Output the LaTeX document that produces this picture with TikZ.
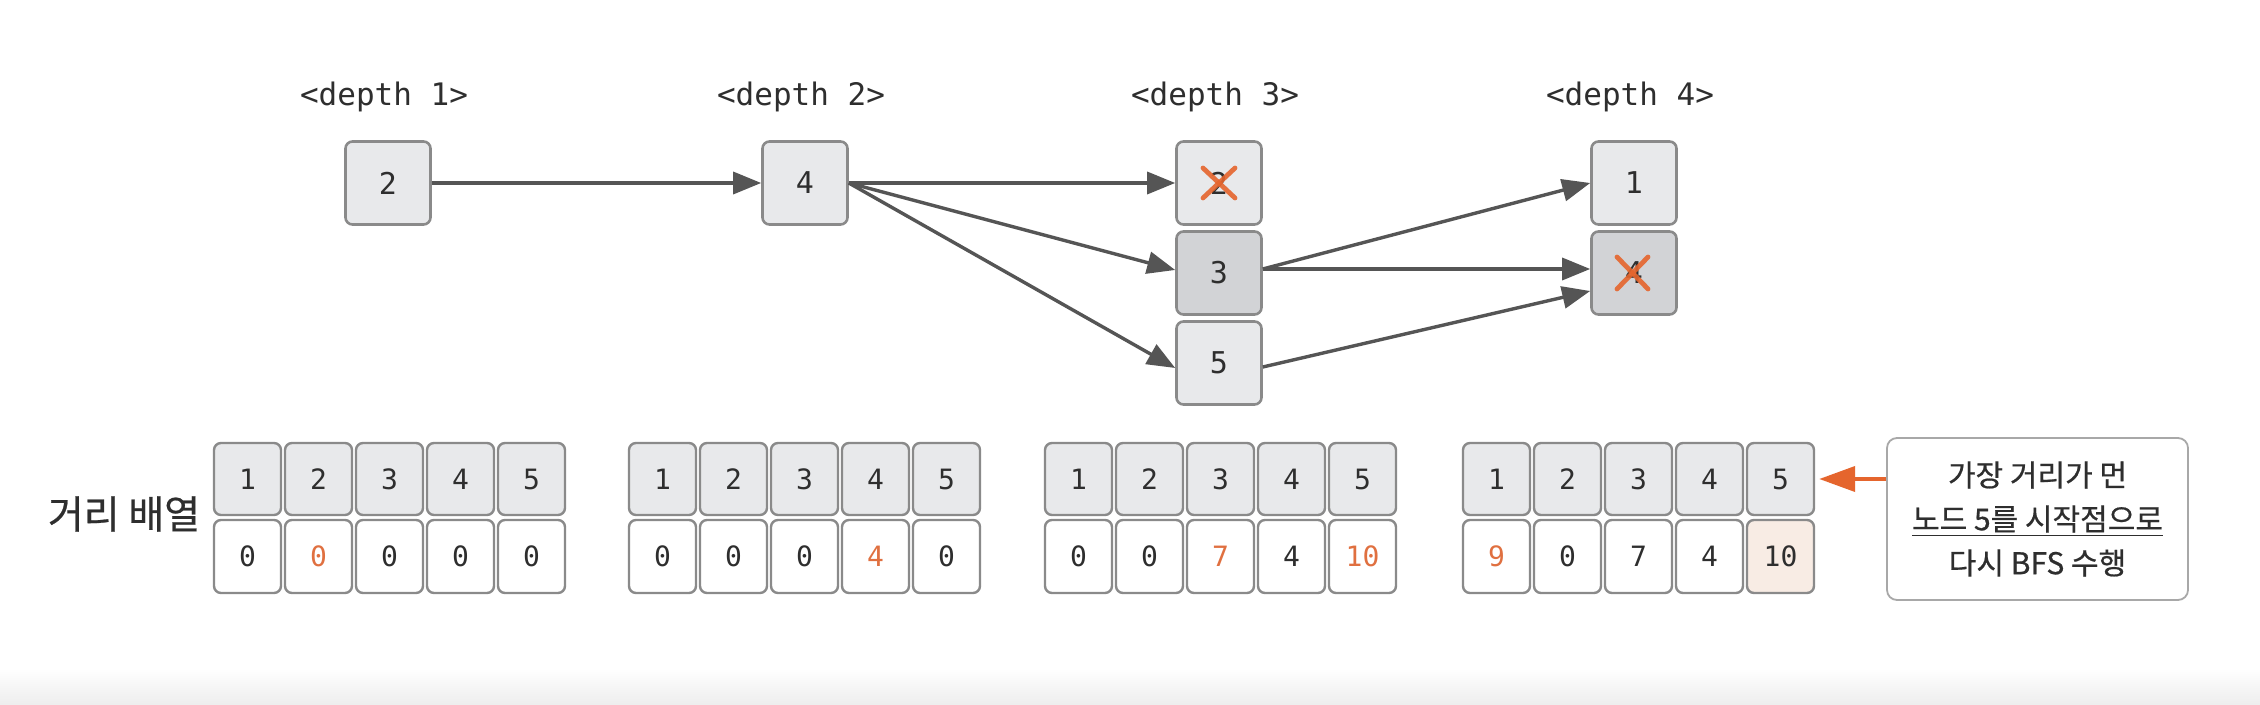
\documentclass[tikz,border=0pt]{standalone}
\usepackage{fontspec}
\setmainfont{DejaVu Sans}
\newfontfamily\mono{DejaVu Sans Mono}
\newfontfamily\kr[FakeBold=0.6]{Noto Sans CJK KR}
\usetikzlibrary{arrows.meta,calc}
\definecolor{nodefill}{HTML}{E8E9EB}
\definecolor{darkfill}{HTML}{D2D3D6}
\definecolor{bordc}{HTML}{8A8A8A}
\definecolor{arrc}{HTML}{555555}
\definecolor{xorange}{HTML}{E5652D}
\definecolor{otxt}{HTML}{E07040}
\definecolor{txt}{HTML}{2E2E2E}
\definecolor{peach}{HTML}{F8ECE4}
\definecolor{callb}{HTML}{A8A8A8}
\begin{document}
\begin{tikzpicture}[x=0.5pt,y=-0.5pt,
  gnode/.style={draw=bordc, line width=1.3pt, rounded corners=3.5pt, fill=nodefill,
    minimum width=42.5pt, minimum height=41.5pt, inner sep=0pt,
    font=\mono\fontsize{15}{18}\selectfont, text=txt},
  dnode/.style={gnode, fill=darkfill},
  hcell/.style={draw=bordc, line width=1.2pt, rounded corners=3.5pt, fill=nodefill,
    minimum width=33.5pt, minimum height=36pt, inner sep=0pt,
    font=\mono\fontsize{14}{16}\selectfont, text=txt},
  vcell/.style={hcell, fill=white, minimum height=36.5pt},
  lbl/.style={font=\mono\fontsize{15.5}{18}\selectfont, text=txt, inner sep=0pt},
  edge/.style={draw=arrc, line width=1.7pt, -{Triangle[length=14pt,width=11pt]}},
  oarrow/.style={draw=xorange, line width=2pt, -{Triangle[length=18pt,width=12.5pt]}},
  cross/.style={draw=xorange, line width=2.4pt, line cap=round, opacity=0.9},
  callout/.style={draw=callb, line width=0.9pt, rounded corners=5pt, fill=white,
    minimum width=150.5pt, minimum height=81pt, align=center, inner sep=0pt,
    font=\kr\fontsize{15}{22}\selectfont, text=txt}
]
\useasboundingbox (0,0) rectangle (2260,705);
\fill[white] (0,0) rectangle (2260,705);
\shade[top color=white, bottom color=black!7] (0,668) rectangle (2260,705);

% depth labels
\node[lbl] (d1) at (384,97) {<depth 1>};
\node[lbl] (d2) at (801,97) {<depth 2>};
\node[lbl] (d3) at (1215,97) {<depth 3>};
\node[lbl] (d4) at (1630,97) {<depth 4>};

% graph nodes
\node[gnode] (n2) at (388,183) {2};
\node[gnode] (n4) at (805,183) {4};
\node[gnode] (x2) at (1219,183) {2};
\node[dnode] (n3) at (1219,273) {3};
\node[gnode] (n5) at (1219,363) {5};
\node[gnode] (n1) at (1634,183) {1};
\node[dnode] (x4) at (1634,273) {4};

% crosses
\draw[cross] ($(x2.center)+(-16,-15)$) -- ($(x2.center)+(16,15)$);
\draw[cross] ($(x2.center)+(16,-15)$) -- ($(x2.center)+(-16,15)$);
\draw[cross] ($(x4.center)+(-17,-16)$) -- ($(x4.center)+(14,16)$);
\draw[cross] ($(x4.center)+(14,-16)$) -- ($(x4.center)+(-17,16)$);

% edges
\draw[edge] (n2.east) -- (n4.west);
\draw[edge] (n4.east) -- (x2.west);
\draw[edge] (n4.east) -- ($(n3.west)+(0,-3)$);
\draw[edge] (n4.east) -- ($(n5.west)+(0,5)$);
\draw[edge] ($(n3.east)+(0,-4)$) -- (n1.west);
\draw[edge] ($(n3.east)+(0,-4)$) -- ($(x4.west)+(0,-4)$);
\draw[edge] ($(n5.east)+(0,4)$) -- ($(x4.west)+(0,18)$);

% label
\node[font=\kr\fontsize{19.5}{22}\selectfont, text=txt, inner sep=0pt] (lab) at (124,514) {거리 배열};

% header rows
\foreach \a/\bx in {1/214,2/629,3/1045,4/1463} {
  \foreach \k in {1,...,5} {
    \node[hcell] (h\a\k) at ({\bx+33.5+71*(\k-1)},479) {\k};
  }
}
% value rows
\foreach \k/\v/\c in {1/0/txt,2/0/otxt,3/0/txt,4/0/txt,5/0/txt}
  \node[vcell,text=\c] (v1\k) at ({214+33.5+71*(\k-1)},556.5) {\v};
\foreach \k/\v/\c in {1/0/txt,2/0/txt,3/0/txt,4/4/otxt,5/0/txt}
  \node[vcell,text=\c] (v2\k) at ({629+33.5+71*(\k-1)},556.5) {\v};
\foreach \k/\v/\c in {1/0/txt,2/0/txt,3/7/otxt,4/4/txt,5/10/otxt}
  \node[vcell,text=\c] (v3\k) at ({1045+33.5+71*(\k-1)},556.5) {\v};
\foreach \k/\v/\c in {1/9/otxt,2/0/txt,3/7/txt,4/4/txt}
  \node[vcell,text=\c] (v4\k) at ({1463+33.5+71*(\k-1)},556.5) {\v};
\node[vcell, fill=peach] (v45) at ({1463+33.5+71*4},556.5) {10};

% callout
\node[callout] (callout) at (2037.5,519) {가장 거리가 먼\\\underline{노드 5를 시작점으로}\\다시 BFS 수행};
\draw[oarrow, shorten >=2pt] (callout.west |- h45.east) -- (h45.east);
\end{tikzpicture}
\end{document}
